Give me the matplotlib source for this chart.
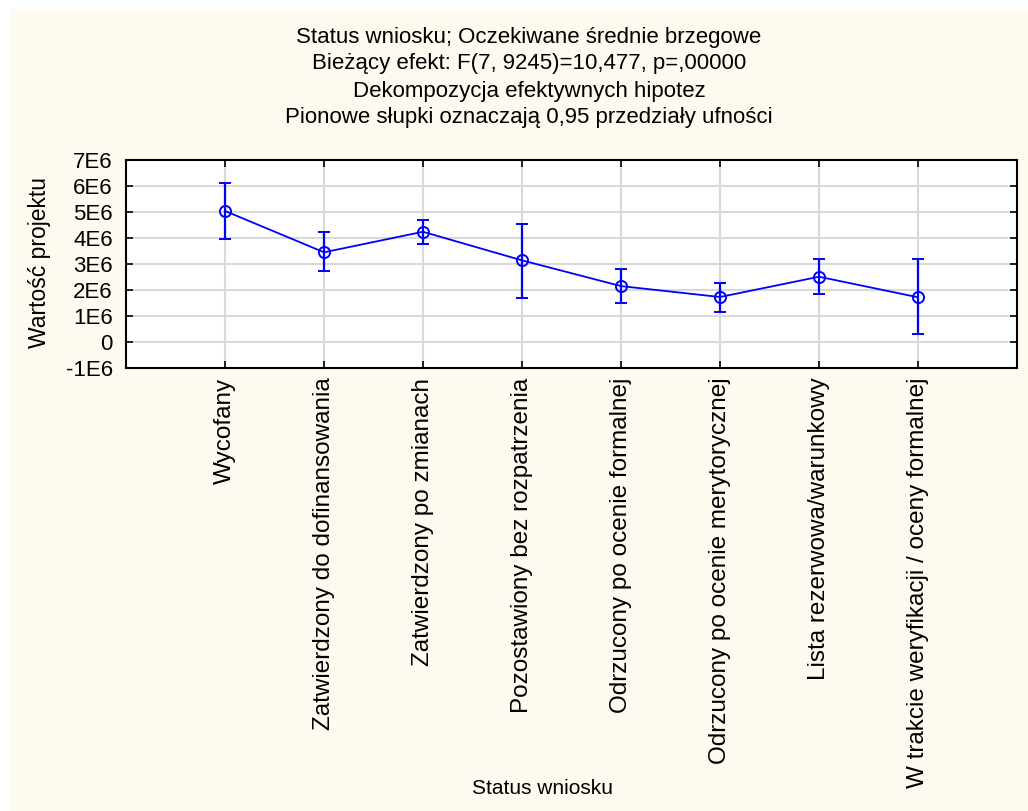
import matplotlib.pyplot as plt
import matplotlib.patches as mpatches

plt.rcParams["font.family"] = ["Liberation Sans", "DejaVu Sans"]

categories = [
    "Wycofany",
    "Zatwierdzony do dofinansowania",
    "Zatwierdzony po zmianach",
    "Pozostawiony bez rozpatrzenia",
    "Odrzucony po ocenie formalnej",
    "Odrzucony po ocenie merytorycznej",
    "Lista rezerwowa/warunkowy",
    "W trakcie weryfikacji / oceny formalnej",
]
means = [5.04e6, 3.45e6, 4.24e6, 3.14e6, 2.15e6, 1.73e6, 2.51e6, 1.72e6]
upper = [6.13e6, 4.22e6, 4.69e6, 4.54e6, 2.80e6, 2.27e6, 3.19e6, 3.19e6]
lower = [3.97e6, 2.72e6, 3.76e6, 1.69e6, 1.49e6, 1.17e6, 1.85e6, 0.31e6]
yticks = [-1e6, 0, 1e6, 2e6, 3e6, 4e6, 5e6, 6e6, 7e6]
ytick_labels = ["-1E6", "0", "1E6", "2E6", "3E6", "4E6", "5E6", "6E6", "7E6"]

title_lines = [
    "Status wniosku; Oczekiwane średnie brzegowe",
    "Bieżący efekt: F(7, 9245)=10,477, p=,00000",
    "Dekompozycja efektywnych hipotez",
    "Pionowe słupki oznaczają 0,95 przedziały ufności",
]

W, H = 1028, 811
fig = plt.figure(figsize=(W / 100, H / 100), dpi=100, facecolor="white")
# cream panel behind everything
fig.patches.append(mpatches.Rectangle((11 / W, 0), 1 - 11 / W, 1 - 9 / H,
                                      transform=fig.transFigure, facecolor="#FEFAF0",
                                      edgecolor="none", zorder=-10))

ax = fig.add_axes([126 / W, 1 - 368 / H, (1017 - 126) / W, (368 - 160) / H])
ax.set_facecolor("white")

x = list(range(len(categories)))
yerr = [[m - lo for m, lo in zip(means, lower)], [u - m for m, u in zip(means, upper)]]
ax.errorbar(x, means, yerr=yerr, color="#0000FF", lw=1.3, elinewidth=1.6,
            capsize=4.5, capthick=1.6, marker="o", markersize=8, mfc="none",
            mec="#0000FF", mew=1.4, zorder=3)

ax.set_xlim(-1, 8)
ax.set_ylim(-1e6, 7e6)
ax.set_yticks(yticks)
ax.set_yticklabels(ytick_labels, fontsize=16)
ax.set_xticks(x)
ax.set_xticklabels(categories, rotation=90, fontsize=17.5)
ax.grid(True, color="#D9D9D9", lw=1.5, zorder=0)
ax.set_axisbelow(True)
ax.tick_params(direction="in", top=True, right=True, length=5, width=1.2)
ax.tick_params(axis="y", pad=9.5)
ax.tick_params(axis="x", pad=7)
for s in ax.spines.values():
    s.set_linewidth(1.5)

fig.text(40 / W, 1 - 263 / H, "Wartość projektu", rotation=90, ha="center", va="center",
         fontsize=16.5)

for i, line in enumerate(title_lines):
    fig.text(529 / W, 1 - (37 + 27 * i) / H, line, ha="center", va="center", fontsize=16)
fig.text(542 / W, 1 - 789 / H, "Status wniosku", ha="center", va="center", fontsize=15)

fig.savefig("out.png", dpi=100)
